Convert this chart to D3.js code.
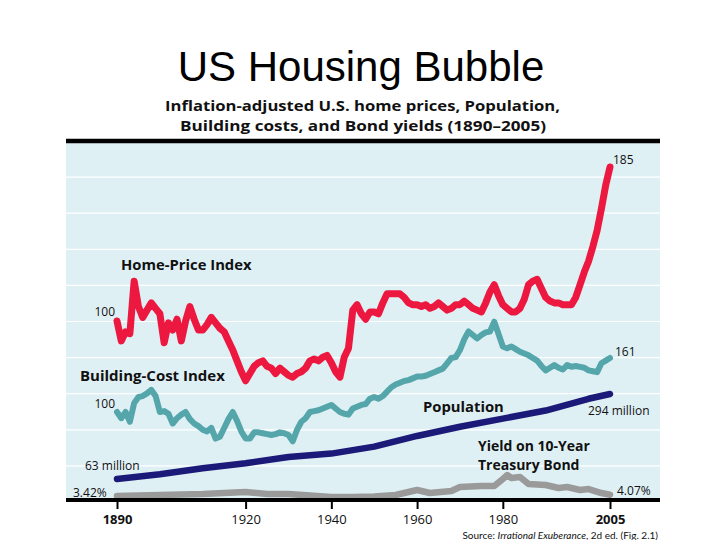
<!DOCTYPE html>
<html>
<head>
<meta charset="utf-8">
<script src="https://cdn.jsdelivr.net/npm/d3@7"></script>
<style>
  body { margin: 0; background: #fff; }
  svg { display: block; }
  .lbl { font-family: "Open Sans", Lato, sans-serif; fill: #111; }
</style>
</head>
<body>
<div id="container"></div>
<script>
/* DATA */
// home-price index (1890 = 100)
const homeYears = [1890,1891,1892,1893,1894,1895,1896,1897,1898,1899,1900,1901,1902,1903,1904,1905,1906,1907,1908,1909,
  1910,1911,1912,1913,1914,1915,1916,1917,1918,1919,1920,1921,1922,1923,1924,1925,1926,1927,1928,1929,
  1930,1931,1932,1933,1934,1935,1936,1937,1938,1939,1940,1941,1942,1943,1944,1945,1946,1947,1948,1949,
  1950,1951,1952,1953,1954,1955,1956,1957,1958,1959,1960,1961,1962,1963,1964,1965,1966,1967,1968,1969,
  1970,1971,1972,1973,1974,1975,1976,1977,1978,1979,1980,1981,1982,1983,1984,1985,1986,1987,1988,1989,
  1990,1991,1992,1993,1994,1995,1996,1997,1998,1999,2000,2001,2002,2003,2004,2005];
const homeVals = [100,89,94,93,122,108,102,106,110,107,104,88,99,95,101,89,100,108,101,95,
  95,98,102,99,96,94,89,84,78,72,67,71,75,77,78,75,74,71,74,72,
  70,69,71,72,74,78,79,78,80,81,77,72,69,80,85,106,109,104,101,105,
  105,104,110,115,115,115,115,113,110,109,109,108,109,107,108,110,108,106,107,109,
  109,111,109,107,106,105,110,116,120,114,109,107,105,105,107,112,120,122,123,118,
  113,111,110,110,109,109,109,113,120,127,133,141,150,162,175,185];

// building-cost index (1890 = 100)
const costYears = homeYears;
const costVals = [100,93,100,89,110,117,118,121,125,118,100,101,98,87,93,97,100,92,87,84,
  80,78,82,70,72,82,92,100,90,78,70,70,77,77,76,75,74,75,77,76,
  74,67,80,89,93,100,101,102,104,106,108,104,100,98,97,104,106,108,109,115,
  117,115,118,123,128,131,133,135,136,138,140,140,141,143,145,147,149,155,161,162,
  170,182,191,187,183,187,190,191,202,188,174,172,174,171,168,166,164,161,158,152,
  147,150,153,150,148,153,151,152,151,150,147,146,145,155,158,161];

// population, millions
const popYears = [1890,1900,1910,1920,1930,1940,1950,1960,1970,1980,1990,2000,2005];
const popVals = [63,76,92,106,123,132,151,180,205,227,249,281,294];

// yield on 10-year treasury bond, percent (as drawn)
const yieldYears = [1890,1900,1910,1920,1925,1930,1940,1945,1950,1955,1960,1963,1968,1970,1975,1978,1980,1981,1982,1984,1986,1990,1993,1995,1998,2000,2003,2005];
const yieldVals = [3.42,3.9,4.4,5.4,4.4,4.4,2.9,2.9,3.2,3.9,6.4,4.9,5.9,7.9,8.4,8.4,11.9,13.9,12.4,12.9,9.4,8.9,7.4,7.9,6.4,6.9,4.9,4.07];

const tickYears = [1890,1920,1940,1960,1980,2005];
const boldTicks = [1890,2005];

/* CONSTANTS */
const width = 720, height = 540;
const panel = { left: 66, right: 660, top: 143, bottom: 500 };

const svg = d3.select("#container")
  .append("svg")
  .attr("width", width)
  .attr("height", height);

/* SCALES */
const xScale = d3.scaleLinear().domain([1890, 2005]).range([117, 610]);
// each series sits on its own vertical scale in the original figure
const homeY = d3.scaleLinear().domain([100, 185]).range([321, 167]);
const costY = d3.scaleLinear().domain([100, 161]).range([412, 358]);
const popY = d3.scaleLinear().domain([63, 294]).range([479, 394]);
const yieldY = d3.scaleLinear().domain([3.42, 13.9]).range([496, 475]);
const gridY = d3.scaleLinear().domain([0, 10]).range([502, 141]);

/* TITLES */
svg.append("text")
  .attr("x", 361).attr("y", 81)
  .attr("text-anchor", "middle")
  .style("font-family", "'Liberation Sans', Arial, sans-serif")
  .style("font-size", "42px")
  .text("US Housing Bubble");

const sub = svg.append("g")
  .style("font-size", "14px")
  .style("font-weight", "bold");
sub.append("text").attr("class", "lbl").attr("x", 165).attr("y", 111)
  .attr("textLength", 395).attr("lengthAdjust", "spacingAndGlyphs")
  .text("Inflation-adjusted U.S. home prices, Population,");
sub.append("text").attr("class", "lbl").attr("x", 180).attr("y", 131)
  .attr("textLength", 366).attr("lengthAdjust", "spacingAndGlyphs")
  .text("Building costs, and Bond yields (1890\u20132005)");

/* PANEL */
svg.append("rect")
  .attr("x", panel.left).attr("y", panel.top)
  .attr("width", panel.right - panel.left)
  .attr("height", panel.bottom - panel.top)
  .attr("fill", "#dff0f5");

svg.append("g")
  .selectAll("line")
  .data(d3.range(1, 10))
  .join("line")
  .attr("x1", panel.left).attr("x2", panel.right)
  .attr("y1", d => gridY(d)).attr("y2", d => gridY(d))
  .attr("stroke", "#fff")
  .attr("stroke-width", 1.2);

// black rule on top
svg.append("line")
  .attr("x1", panel.left).attr("x2", panel.right)
  .attr("y1", 141).attr("y2", 141)
  .attr("stroke", "#000").attr("stroke-width", 4.5);

/* LINES */
const drawLine = (years, vals, y, color, w) => {
  const pts = years.map((d, i) => [d, vals[i]]);
  svg.append("path")
    .datum(pts)
    .attr("fill", "none")
    .attr("stroke", color)
    .attr("stroke-width", w)
    .attr("stroke-linejoin", "round")
    .attr("stroke-linecap", "round")
    .attr("d", d3.line().x(d => xScale(d[0])).y(d => y(d[1])));
};

drawLine(yieldYears, yieldVals, yieldY, "#9a9a9a", 6.5);
drawLine(popYears, popVals, popY, "#1c1a78", 6.5);
drawLine(costYears, costVals, costY, "#54a6aa", 6);
drawLine(homeYears, homeVals, homeY, "#ec1840", 7);

/* AXIS */
const xAxis = d3.axisBottom(xScale)
  .tickValues(tickYears)
  .tickFormat(d3.format("d"))
  .tickSize(9)
  .tickPadding(6);

const gx = svg.append("g")
  .attr("transform", `translate(0,${panel.bottom})`)
  .call(xAxis);
gx.select(".domain").remove();
gx.selectAll(".tick line").attr("stroke", "#000").attr("stroke-width", 2);
gx.selectAll(".tick text")
  .attr("class", "lbl")
  .style("font-size", "13px")
  .style("font-weight", d => boldTicks.includes(d) ? "bold" : "normal")
  .attr("fill", "#222");

svg.append("line")
  .attr("x1", panel.left).attr("x2", panel.right)
  .attr("y1", panel.bottom).attr("y2", panel.bottom)
  .attr("stroke", "#000").attr("stroke-width", 4);

/* LABELS */
const label = (x, y, txt, opts = {}) => svg.append("text")
  .attr("class", "lbl")
  .attr("x", x).attr("y", y)
  .attr("text-anchor", opts.anchor || "start")
  .style("font-size", (opts.size || 12) + "px")
  .style("font-weight", opts.bold ? "bold" : "normal")
  .text(txt);

label(121, 270, "Home-Price Index", { bold: true, size: 14.8 });
label(115, 316, "100", { anchor: "end" });
label(613, 164, "185");
label(80, 381, "Building-Cost Index", { bold: true, size: 15 });
label(115, 408, "100", { anchor: "end" });
label(615, 356, "161");
label(423, 412, "Population", { bold: true, size: 14.8 });
label(588, 415, "294 million");
label(85, 470, "63 million");
label(478, 451, "Yield on 10-Year", { bold: true, size: 14 });
label(478, 470, "Treasury Bond", { bold: true, size: 14 });
label(73, 497, "3.42%");
label(617, 495, "4.07%");

const src = svg.append("text")
  .attr("x", 658).attr("y", 539)
  .attr("text-anchor", "end")
  .style("font-family", "Lato, sans-serif")
  .style("font-size", "10px")
  .attr("fill", "#111");
src.append("tspan").text("Source: ");
src.append("tspan").style("font-style", "italic").text("Irrational Exuberance");
src.append("tspan").text(", 2d ed. (Fig. 2.1)");
</script>
</body>
</html>
